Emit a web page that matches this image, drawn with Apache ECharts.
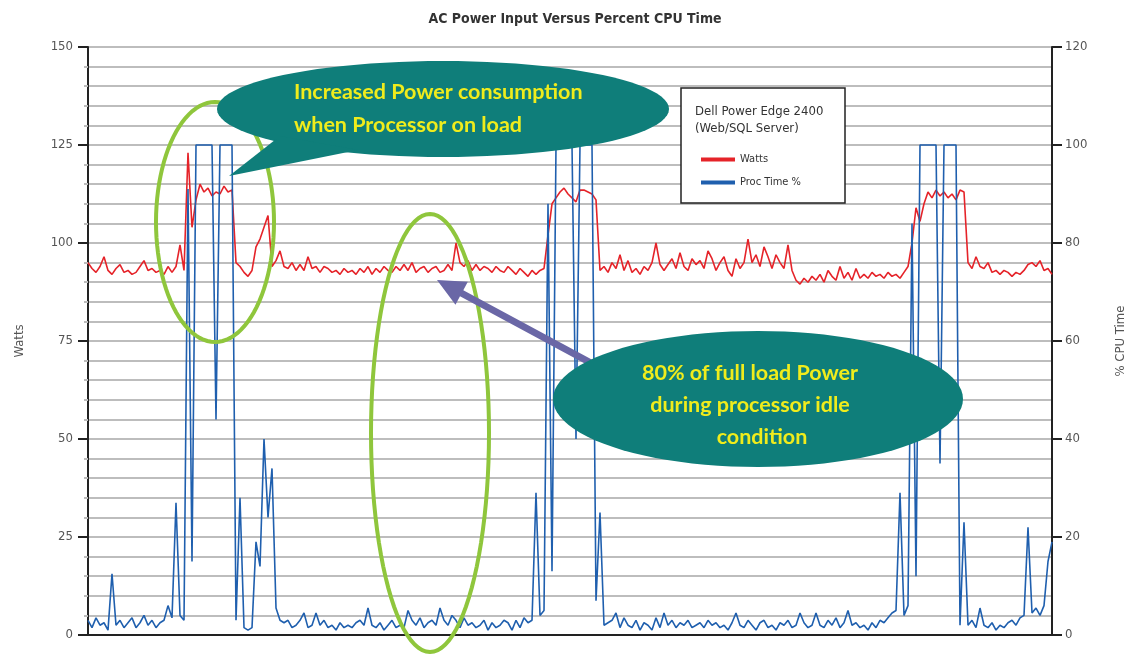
<!DOCTYPE html>
<html>
<head>
<meta charset="utf-8">
<script src="https://cdn.jsdelivr.net/npm/echarts@6/dist/echarts.min.js"></script>
<style>
html,body{margin:0;padding:0;background:#fff;}
#chart{width:1130px;height:654px;}
</style>
</head>
<body>
<div id="chart"></div>
<script>
const chartTitle = 'AC Power Input Versus Percent CPU Time';
const seriesNames = ['Watts', 'Proc Time %'];
const legendHeader = ['Dell Power Edge 2400', '(Web/SQL Server)'];
const wattTicks = [0, 25, 50, 75, 100, 125, 150];
const cpuTicks = [0, 20, 40, 60, 80, 100, 120];

const watts = [
95,93.5,92.5,94,96.5,93,92,93.5,94.5,92.5,
93,92,92.5,94,95.5,93,93.5,92.5,93,92,
94,92.5,94,99.5,93,123,104,111,115,113,
114,112,113,112.5,114.5,113,113.5,95,94,92.5,
91.5,93,99,101,104,107,94,95.5,98,94,
93.5,95,93,94.5,93,96.5,93.5,94,92.5,94,
93.5,92.5,93,92,93.5,92.5,93,92,93.5,92.5,
94,92,93.5,92.5,94,93,92.5,94,93,94.5,
93,95,92.5,93.5,94,92.5,93.5,94,92.5,93,
94.5,93,100,95,94,95.5,93,94.5,93,94,
93.5,92.5,94,93,92.5,94,93,92,93.5,92.5,
91.5,93,92,93,93.5,102,110,111.5,113,114,
112.5,111.5,110.5,113.5,113.5,113,112.5,111,93,94,
92.5,95,93.5,97,93,95.5,92.5,93.5,92,94,
93,95,100,94.5,93,94.5,96,93.5,97.5,94,
93,96,94.5,95.5,93.5,98,96,93,95,96.5,
93,91.5,96,93.5,95,101,95,97,94,99,
96.5,93.5,97,95,93.5,99.5,93,90.5,89.5,91,
90,91.5,90.5,92,90,93,91.5,90.5,94,91,
92.5,90.5,93.5,91,92,91,92.5,91.5,92,91,
92.5,91.5,92,91,92.5,94,100,109,105.5,110,
113,111.5,113.5,112,113,111.5,112.5,111,113.5,113,
95,93.5,96.5,94,93.5,95,92.5,93,92,93,
92.5,91.5,92.5,92,93,94.5,95,94,95.5,93,
93.5,92
];

const procTime = [
3,1.5,3.5,2,2.5,1,12.5,2,3,1.5,
2.5,3.5,1.5,2.5,4,2,3,1.5,2.5,3,
6,3.5,27,4,3,91,15,100,100,100,
100,100,44,100,100,100,100,3,28,1.5,
1,1.5,19,14,40,24,34,5.5,3,2.5,
3,1.5,2,3,4.5,1.5,2,4.5,2,3,
1.5,2,1,2.5,1.5,2,1.5,2.5,3,2,
5.5,2,1.5,2.5,1,2,3,1.5,2,1.5,
5,3,2,3.5,1.5,2.5,3,2,5.5,3,
2,4,3,1.5,3.5,2,2.5,1.5,2,3,
1,2.5,1.5,2,3,2.5,1,3,1.5,3.5,
2.5,3,29,4,5,88,13,100,100,100,
100,100,40,100,100,100,100,7,25,2,
2.5,3,4.5,1.5,3.5,2,1.5,3,1,2.5,
2,1,3.5,1.5,4.5,2,3,1.5,2.5,2,
3,1.5,2,2.5,1.5,3,2,2.5,1.5,2,
1,2.5,4.5,2,1.5,3,2,1,2.5,3,
1.5,2,1,2.5,2,3,1.5,2,4.5,2.5,
1.5,2,4.5,2,1.5,3,2,3.5,1.5,2.5,
5,2,2.5,1.5,2,1,2.5,1.5,3,2.5,
3.5,4.5,5,29,4,6,84,12,100,100,
100,100,100,35,100,100,100,100,2,23,
2,3,1.5,5.5,2,1.5,2.5,1,2,1.5,
2.5,3,2,3.5,4,22,4.5,5.5,4,6,
15,19
];

const samples = watts.map((_, i) => String(i + 1));

const callout1 = ['Increased Power consumption', 'when Processor on load'];
const callout2 = ['80% of full load Power', 'during processor idle', 'condition'];

function ellipsePts(cx, cy, rx, ry) {
  const pts = [];
  for (let k = 0; k < 96; k++) {
    const a = k / 96 * Math.PI * 2;
    pts.push([cx + rx * Math.cos(a), cy + ry * Math.sin(a)]);
  }
  return pts;
}
function arrowPts(x0, y0, x1, y1, shaftHalf, headLen, headHalf) {
  const dx = x1 - x0, dy = y1 - y0, L = Math.hypot(dx, dy);
  const ux = dx / L, uy = dy / L, px = -uy, py = ux;
  const bx = x1 - ux * headLen, by = y1 - uy * headLen;
  return [
    [x0 + px * shaftHalf, y0 + py * shaftHalf],
    [bx + px * shaftHalf, by + py * shaftHalf],
    [bx + px * headHalf, by + py * headHalf],
    [x1, y1],
    [bx - px * headHalf, by - py * headHalf],
    [bx - px * shaftHalf, by - py * shaftHalf],
    [x0 - px * shaftHalf, y0 - py * shaftHalf]
  ];
}

const TEAL = '#0f7e7a';
const YELLOW = '#f0ec1c';
const GREEN = '#8fc63c';
const CALLOUT_FONT = 'bold 21.5px Lato, "Open Sans", sans-serif';
const NARROW = '"DejaVu Sans Condensed", "Liberation Sans Narrow", "Noto Sans", sans-serif';

const chart = echarts.init(document.getElementById('chart'), null, {renderer: 'canvas'});
chart.setOption({
  animation: false,
  backgroundColor: '#fff',
  title: {
    text: chartTitle, left: 570, top: 7, textAlign: 'center',
    textStyle: {fontSize: 14, fontWeight: 'bold', color: '#333', fontFamily: NARROW}
  },
  legend: {
    data: seriesNames, orient: 'vertical', left: 696, top: 149, z: 200,
    icon: 'rect', itemWidth: 34, itemHeight: 4, itemGap: 12, itemTextGap: 10,
    textStyle: {fontSize: 11, color: '#333', fontFamily: NARROW}
  },
  grid: {left: 88, right: 78, top: 47, bottom: 19, containLabel: false, outerBoundsMode: 'none'},
  xAxis: [
    {type: 'category', data: samples, boundaryGap: false,
     axisLine: {show: true, lineStyle: {color: '#222', width: 2}},
     axisTick: {show: false}, axisLabel: {show: false}, splitLine: {show: false}},
    {type: 'category', data: samples, boundaryGap: false, position: 'top',
     axisLine: {show: true, lineStyle: {color: '#222', width: 2}},
     axisTick: {show: false}, axisLabel: {show: false}, splitLine: {show: false}}
  ],
  yAxis: [
    {type: 'value', min: wattTicks[0], max: wattTicks[wattTicks.length - 1], interval: 25,
     name: 'Watts', nameLocation: 'middle', nameGap: 62, nameRotate: 90,
     nameTextStyle: {fontSize: 13, color: '#555', fontFamily: NARROW},
     axisLine: {show: true, lineStyle: {color: '#222', width: 2}},
     axisTick: {show: true, length: 10, lineStyle: {color: '#222', width: 2}},
     minorTick: {show: true, splitNumber: 5, length: 4, lineStyle: {color: '#bbb', width: 2}},
     axisLabel: {fontSize: 13, color: '#555', margin: 15, fontFamily: NARROW},
     splitLine: {show: true, lineStyle: {color: '#bdbdbd', width: 2}},
     minorSplitLine: {show: true, lineStyle: {color: '#bdbdbd', width: 2}}},
    {type: 'value', min: cpuTicks[0], max: cpuTicks[cpuTicks.length - 1], interval: 20, position: 'right',
     name: '% CPU Time', nameLocation: 'middle', nameGap: 62, nameRotate: 90,
     nameTextStyle: {fontSize: 13, color: '#555', fontFamily: NARROW},
     axisLine: {show: true, lineStyle: {color: '#222', width: 2}},
     axisTick: {show: true, length: 10, lineStyle: {color: '#222', width: 2}},
     axisLabel: {fontSize: 13, color: '#555', margin: 13, fontFamily: NARROW},
     splitLine: {show: false}}
  ],
  series: [
    {name: seriesNames[0], type: 'line', data: watts, yAxisIndex: 0, xAxisIndex: 0,
     symbol: 'none', color: '#e52329', lineStyle: {width: 1.6, color: '#e52329'}, z: 2},
    {name: seriesNames[1], type: 'line', data: procTime, yAxisIndex: 1, xAxisIndex: 0,
     symbol: 'none', color: '#1f5fae', lineStyle: {width: 1.6, color: '#1f5fae'}, z: 3}
  ],
  graphic: [
    {type: 'rect', z: 150, shape: {x: 681, y: 88, width: 164, height: 115},
     style: {fill: '#fff', stroke: '#222', lineWidth: 1.5}},
    {type: 'text', z: 160, x: 695, y: 105,
     style: {text: legendHeader[0], fontSize: 13, fill: '#333', fontFamily: NARROW}},
    {type: 'text', z: 160, x: 695, y: 122,
     style: {text: legendHeader[1], fontSize: 13, fill: '#333', fontFamily: NARROW}},
    {type: 'polygon', z: 120, shape: {points: ellipsePts(215, 222, 59, 120)},
     style: {fill: 'none', stroke: GREEN, lineWidth: 4}},
    {type: 'polygon', z: 120, shape: {points: ellipsePts(430, 433, 59, 219)},
     style: {fill: 'none', stroke: GREEN, lineWidth: 4}},
    {type: 'polygon', z: 130, shape: {points: ellipsePts(443, 109, 226, 48)},
     style: {fill: TEAL}},
    {type: 'polygon', z: 130, shape: {points: [[280, 136], [229, 176], [358, 150]]},
     style: {fill: TEAL}},
    {type: 'text', z: 140, x: 294, y: 92,
     style: {text: callout1[0], font: CALLOUT_FONT, fill: YELLOW, verticalAlign: 'middle'}},
    {type: 'text', z: 140, x: 294, y: 125,
     style: {text: callout1[1], font: CALLOUT_FONT, fill: YELLOW, verticalAlign: 'middle'}},
    {type: 'polygon', z: 125, shape: {points: arrowPts(617, 377, 437, 280, 3.5, 28, 13)},
     style: {fill: '#6a67a6'}},
    {type: 'polygon', z: 130, shape: {points: ellipsePts(758, 399, 205, 68)},
     style: {fill: TEAL}},
    {type: 'text', z: 140, x: 750, y: 373,
     style: {text: callout2[0], font: CALLOUT_FONT, fill: YELLOW, align: 'center', verticalAlign: 'middle'}},
    {type: 'text', z: 140, x: 750, y: 405,
     style: {text: callout2[1], font: CALLOUT_FONT, fill: YELLOW, align: 'center', verticalAlign: 'middle'}},
    {type: 'text', z: 140, x: 762, y: 437,
     style: {text: callout2[2], font: CALLOUT_FONT, fill: YELLOW, align: 'center', verticalAlign: 'middle'}}
  ]
});
</script>
</body>
</html>
